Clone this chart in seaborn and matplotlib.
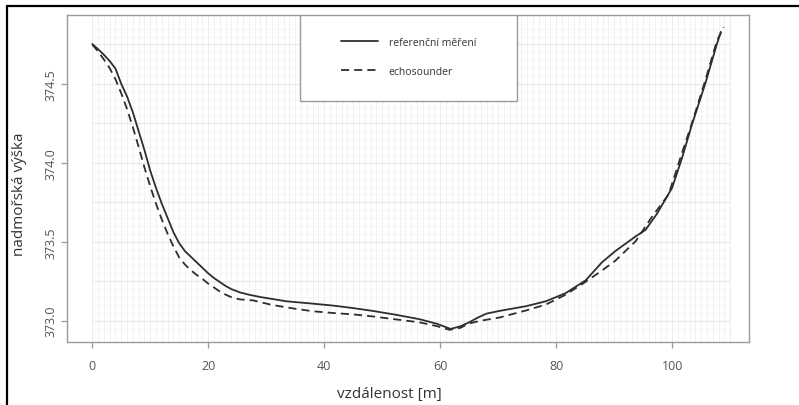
import matplotlib
matplotlib.use('Agg')
import matplotlib.pyplot as plt
from matplotlib.patches import Rectangle
from matplotlib.lines import Line2D
import numpy as np
import pandas as pd
import seaborn as sns

# referencni mereni (plna cara)
ref_x = [0, 1, 2, 3, 4, 5, 6, 7, 8, 9, 10, 11, 12, 13, 14, 15, 16, 17, 18, 19, 20, 21,
         22, 23, 24, 25.5, 27, 29, 33.5, 37.5, 41.5, 45, 48.4, 52, 56.4, 59.5, 61.8, 63.5,
         65, 66.5, 68, 70.2, 74.8, 78.2, 81.6, 85.1, 87.9, 90.2, 93.7, 95.4, 97.4, 100,
         101.7, 103.4, 105.7, 107.7, 108.4]
ref_y = [374.753, 374.72, 374.685, 374.645, 374.597, 374.50, 374.42, 374.32, 374.20,
         374.08, 373.95, 373.84, 373.74, 373.65, 373.56, 373.49, 373.44, 373.405, 373.37,
         373.335, 373.30, 373.27, 373.245, 373.22, 373.20, 373.179, 373.165, 373.15,
         373.123, 373.11, 373.096, 373.08, 373.062, 373.04, 373.01, 372.98, 372.948,
         372.965, 372.99, 373.02, 373.045, 373.062, 373.092, 373.123, 373.174, 373.256,
         373.37, 373.441, 373.534, 373.575, 373.678, 373.842, 374.03, 374.24, 374.50,
         374.75, 374.83]

# echosounder (carkovana cara)
echo_x = [0, 1, 2, 3, 4, 5, 6, 7, 8, 9, 10, 11, 12, 13, 14, 15, 16, 17, 18, 19, 20, 21,
          22, 23, 24.3, 25.5, 27.7, 31, 34.6, 38, 41.5, 45, 48.4, 52, 56.4, 59.5, 61.6,
          63.5, 65, 67, 70.2, 74.8, 78.2, 81.6, 85.1, 87.9, 90.2, 93.7, 96.5, 99.4, 101.5,
          103.4, 105.7, 107.7, 108.9]
echo_y = [374.75, 374.705, 374.655, 374.60, 374.53, 374.44, 374.34, 374.225, 374.10,
          373.97, 373.85, 373.74, 373.64, 373.55, 373.47, 373.40, 373.355, 373.32, 373.29,
          373.265, 373.235, 373.21, 373.185, 373.165, 373.144, 373.135, 373.129, 373.10,
          373.078, 373.06, 373.049, 373.04, 373.027, 373.01, 372.99, 372.965, 372.942,
          372.955, 372.983, 373.0, 373.02, 373.065, 373.102, 373.164, 373.247, 373.318,
          373.38, 373.503, 373.657, 373.80, 374.04, 374.25, 374.52, 374.77, 374.86]

labels = ['referenční měření', 'echosounder']
x_ticks = [0, 20, 40, 60, 80, 100]
y_ticks = [373.0, 373.5, 374.0, 374.5]

sns.set_style('white')
plt.rcParams['font.family'] = ['Open Sans', 'DejaVu Sans']

fig = plt.figure(figsize=(7.99, 4.06), dpi=100)
ax = fig.add_axes([0.0839, 0.1552, 0.8535, 0.8054])

# jemna mrizka (velmi svetla)
for gx in range(0, 111):
    ax.axvline(gx, color='#f2f2f2' if gx % 10 else '#ececec', lw=0.7, zorder=0)
for gy in np.arange(372.95, 374.90, 0.05):
    ax.hlines(gy, 0, 110, color='#f5f5f5', lw=0.6, zorder=0)
for gy in np.arange(373.0, 374.80, 0.25):
    ax.hlines(gy, 0, 110, color='#e9e9e9', lw=0.9, zorder=0)

sns.lineplot(x=ref_x, y=ref_y, ax=ax, color='#2e2e2e', lw=1.3, label=labels[0], sort=False)
sns.lineplot(x=echo_x, y=echo_y, ax=ax, color='#2e2e2e', lw=1.3, label=labels[1], sort=False)
ax.lines[-1].set_dashes((4.5, 2.8))

allx = ref_x + echo_x
ally = ref_y + echo_y
dx = (max(allx) - min(allx)) * 0.04
dy = (max(ally) - min(ally)) * 0.04
ax.set_xlim(min(allx) - dx, max(allx) + dx)
ax.set_ylim(min(ally) - dy, max(ally) + dy)

ax.set_xticks(x_ticks)
ax.set_yticks(y_ticks)
ax.set_xticklabels([str(t) for t in x_ticks])
ax.set_yticklabels(['%.1f' % t for t in y_ticks], rotation=90, va='center')
ax.tick_params(axis='both', colors='#999999', labelcolor='#555555', labelsize=9,
               length=4, width=0.9, direction='out', bottom=True, left=True)
ax.tick_params(axis='x', pad=8)
ax.tick_params(axis='y', pad=3)
for s in ax.spines.values():
    s.set_color('#9a9a9a')
    s.set_linewidth(1.0)

ax.set_xlabel('vzdálenost [m]', fontsize=11, color='#333333')
ax.set_ylabel('nadmořská výška', fontsize=11, color='#333333')
ax.xaxis.set_label_coords(0.472, -0.135)
ax.yaxis.set_label_coords(-0.058, 0.456)

# legenda v ramecku
ax.add_patch(Rectangle((0.3416, 0.737), 0.318, 0.263, transform=ax.transAxes,
                       facecolor='white', edgecolor='#9a9a9a', lw=1.0, zorder=4))
leg = ax.legend(loc='center', bbox_to_anchor=(0.5007, 0.872), frameon=False,
                fontsize=7.5, handlelength=3.6, handletextpad=1.0, labelspacing=1.7)
leg.set_zorder(5)
for t in leg.get_texts():
    t.set_color('#333333')

# cerny okraj obrazku nahore a vlevo
fig.add_artist(Line2D([7 / 799, 1], [1 - 7 / 406, 1 - 7 / 406], color='black', lw=1.6,
                      transform=fig.transFigure))
fig.add_artist(Line2D([7 / 799, 7 / 799], [0, 1 - 7 / 406], color='black', lw=1.6,
                      transform=fig.transFigure))

fig.savefig('out.png', dpi=100)
